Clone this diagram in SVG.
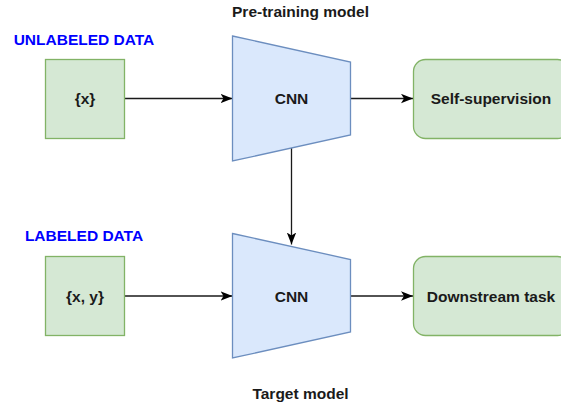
<svg xmlns="http://www.w3.org/2000/svg" width="561" height="406" viewBox="0 0 561 406">
<style>
text{font-family:"Liberation Sans",Arial,sans-serif;font-weight:bold;font-size:15.5px;fill:#1a1a1a;text-anchor:middle}
.blue{fill:#0000ff}
.data{fill:#d5e8d4;stroke:#82b366;stroke-width:1.3}
.cnn{fill:#dae8fc;stroke:#6c8ebf;stroke-width:1.3}
.edge{stroke:#1a1a1a;stroke-width:1.3;fill:none;marker-end:url(#arr)}
</style>
<defs>
<marker id="arr" markerUnits="userSpaceOnUse" viewBox="0 0 12 10" refX="12" refY="5" markerWidth="12" markerHeight="10" orient="auto">
<path d="M0,0.3 L12,5 L0,9.7 L3,5 Z" fill="#000"/>
</marker>
</defs>
<text x="300.5" y="17">Pre-training model</text>
<text x="300.5" y="399">Target model</text>
<text class="blue" x="84" y="45">UNLABELED DATA</text>
<text class="blue" x="84" y="241">LABELED DATA</text>
<g id="connectors">
<path class="edge" d="M124.5,98.5 H232.5"/>
<path class="edge" d="M350.5,98.5 H413"/>
<path class="edge" d="M291.5,148 V244.5"/>
<path class="edge" d="M124.5,296 H232.5"/>
<path class="edge" d="M350.5,296 H413"/>
</g>
<g id="x">
<rect class="data" x="45.5" y="59.5" width="79" height="79"/>
<text x="85" y="104">{x}</text>
</g>
<g id="cnn1">
<polygon class="cnn" points="232.5,36 350.5,62 350.5,135 232.5,161"/>
<text x="291.5" y="104">CNN</text>
</g>
<g id="self">
<rect class="data" x="413.5" y="59.5" width="156" height="79" rx="12"/>
<text x="491" y="104">Self-supervision</text>
</g>
<g id="xy">
<rect class="data" x="45.5" y="256.5" width="79" height="79"/>
<text x="85" y="301.5">{x, y}</text>
</g>
<g id="cnn2">
<polygon class="cnn" points="232.5,233.5 350.5,259.5 350.5,332 232.5,358"/>
<text x="291.5" y="301.5">CNN</text>
</g>
<g id="down">
<rect class="data" x="413.5" y="256.5" width="156" height="79" rx="12"/>
<text x="491" y="301.5">Downstream task</text>
</g>
</svg>
